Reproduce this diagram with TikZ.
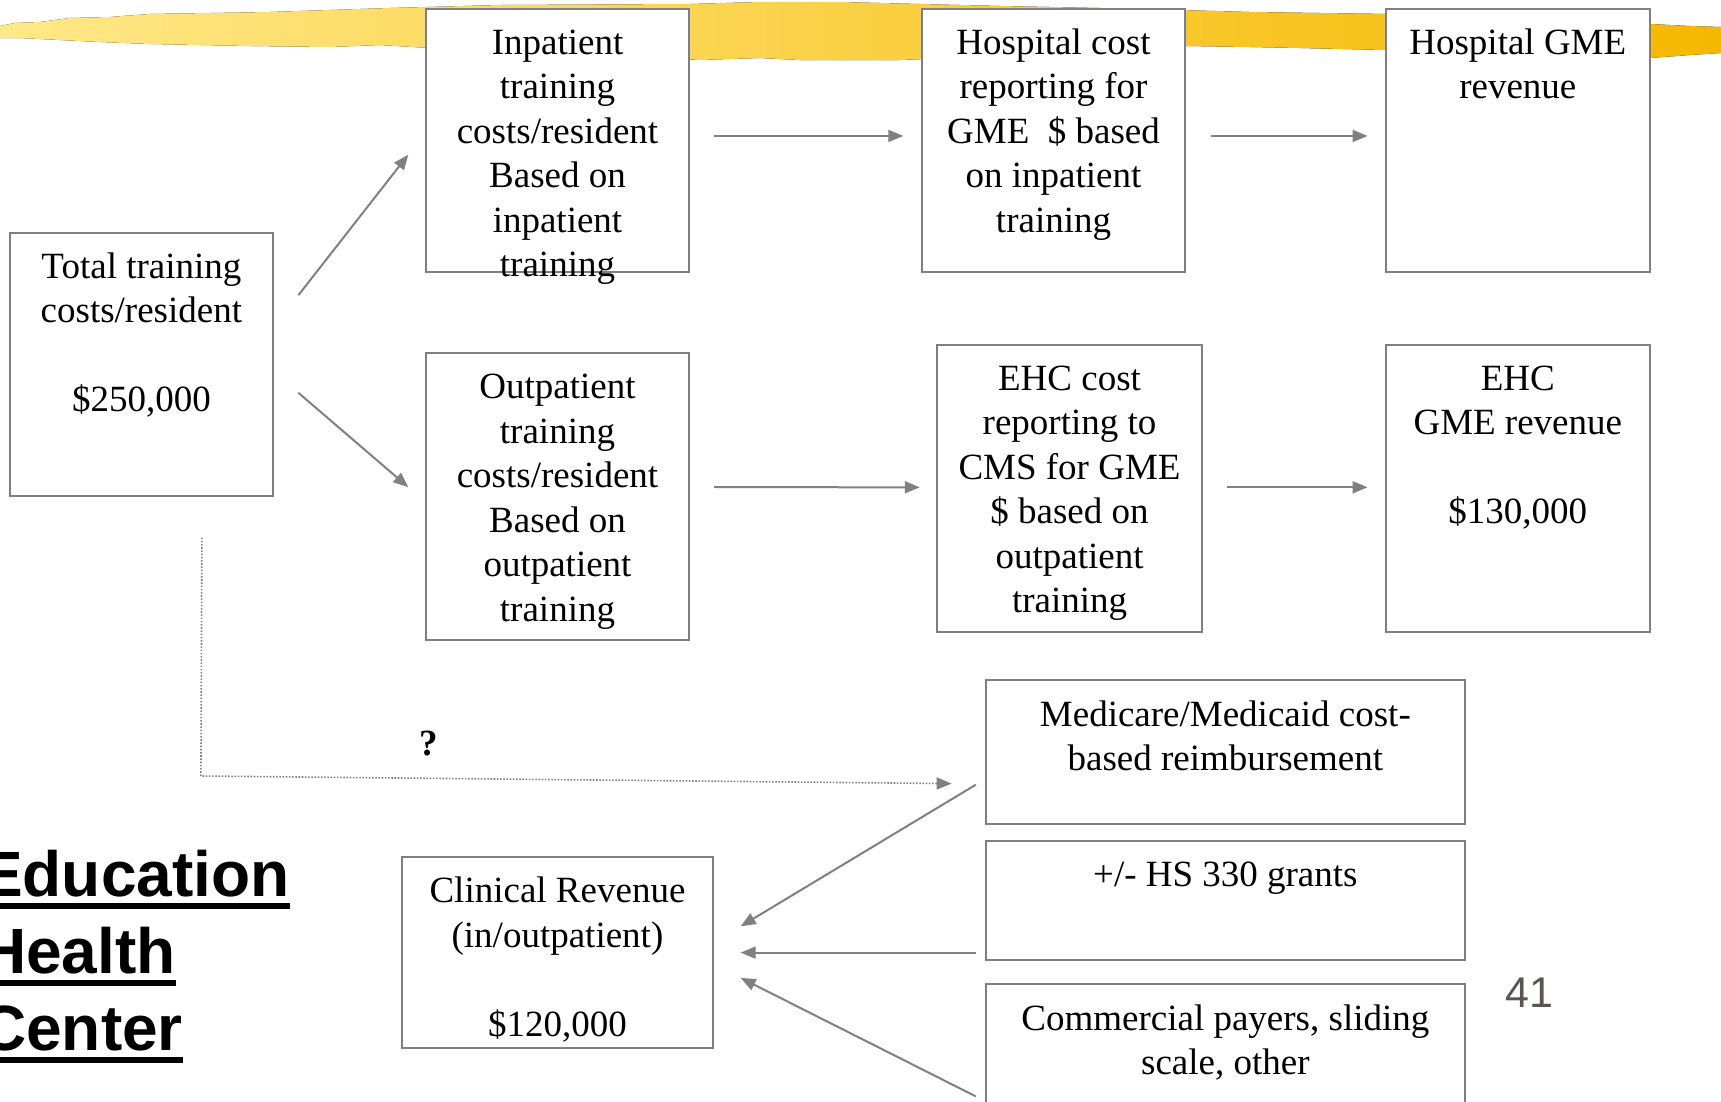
\documentclass[tikz,border=0pt]{standalone}
\usepackage{fontspec}
\setmainfont{Liberation Serif}
\setsansfont{Liberation Sans}
\usetikzlibrary{arrows.meta,calc}

\definecolor{boxgray}{HTML}{7F7F7F}
\definecolor{linegray}{HTML}{808080}
\definecolor{bandlight}{HTML}{FFE888}
\definecolor{banddark}{HTML}{F5B800}
\definecolor{numgray}{HTML}{5A5550}

% box text: width, height, lines (top aligned)
\newcommand\boxtext[3]{\parbox[c][#2][t]{#1}{\centering\vspace*{14.5pt}\strut #3\par}}
\newcommand\thickul[1]{\setbox0\hbox{#1}\rlap{\rule[-0.2em]{\wd0}{0.094em}}\box0}

\begin{document}
\begin{tikzpicture}[x=1pt,y=-1pt,
		cbox/.style = {draw=boxgray, line width=2pt, fill=white, inner sep=0pt,
			anchor=north west, font=\fontsize{37}{44.5}\selectfont},
		arr/.style = {draw=linegray, line width=2pt, -{Triangle[length=15pt,width=12pt]}},
		dotline/.style = {draw=linegray, line width=1.6pt, dash pattern=on 1.6pt off 1.6pt,
			-{Triangle[length=15pt,width=12pt]}},
		title/.style = {anchor=base west, inner sep=0pt,
			font=\sffamily\bfseries\fontsize{64}{77}\selectfont}]
	
	\useasboundingbox (0,0) rectangle (1721,1101);
	
	% brush stroke
	\fill[left color=bandlight, right color=banddark]
	(0,26) -- (15,23) -- (40,22) -- (70,18) -- (110,17) -- (150,14) -- (210,13)
	-- (270,12) -- (330,10) -- (390,8) -- (500,5) -- (690,4) -- (760,2) -- (840,2)
	-- (920,4) -- (1000,6) -- (1100,8) -- (1180,10) -- (1250,12) -- (1390,14)
	-- (1600,20) -- (1650,24) -- (1690,26) -- (1721,27)
	-- (1721,53) -- (1690,55) -- (1650,58) -- (1500,54) -- (1385,50) -- (1300,48)
	-- (1250,47) -- (1185,46) -- (1150,49) -- (1100,52) -- (1000,56) -- (900,60)
	-- (800,60) -- (760,58) -- (700,60) -- (600,55) -- (430,48) -- (380,45)
	-- (330,47) -- (250,46) -- (200,45) -- (150,44) -- (100,42) -- (60,40)
	-- (20,38) -- (0,38) -- cycle;
	
	\node[cbox] (total) at (8.8,231.6) {\boxtext{263.2pt}{263.4pt}{Total training\\costs/resident\\[44.5pt]\$250,000}};
	\node[cbox] (inp) at (424.8,7.7) {\boxtext{263.4pt}{263.3pt}{Inpatient\\training\\costs/resident\\Based on\\inpatient\\training}};
	\node[cbox] (hcost) at (921,7.7) {\boxtext{263pt}{263.3pt}{Hospital cost\\reporting for\\GME\ \ \$ based\\on inpatient\\training}};
	\node[cbox] (hgme) at (1385,7.7) {\boxtext{263.6pt}{263.3pt}{Hospital GME\\revenue}};
	\node[cbox] (outp) at (424.8,352.3) {\boxtext{263.4pt}{286.5pt}{Outpatient\\training\\costs/resident\\Based on\\outpatient\\training}};
	\node[cbox] (ehccost) at (936.3,343.5) {\boxtext{264.5pt}{287.6pt}{EHC cost\\reporting to\\CMS for GME\\\$ based on\\outpatient\\training}};
	\node[cbox] (ehcgme) at (1385,343.5) {\boxtext{263.6pt}{287.6pt}{EHC\\GME revenue\\[44.5pt]\$130,000}};
	\node[cbox] (medi) at (984.5,679.4) {\boxtext{479.7pt}{143.8pt}{Medicare/Medicaid cost-\\based reimbursement}};
	\node[cbox] (grants) at (984.5,839.7) {\boxtext{479.7pt}{119.6pt}{+/- HS 330 grants}};
	\node[cbox] (comm) at (984.5,983.4) {\boxtext{479.7pt}{140pt}{Commercial payers, sliding\\scale, other}};
	\node[cbox] (clin) at (400.6,856.1) {\boxtext{311.7pt}{191pt}{Clinical Revenue\\(in/outpatient)\\[44.5pt]\$120,000}};
	
	\node[font=\bfseries\fontsize{37}{44.5}\selectfont, inner sep=0pt] (q) at (429,744) {?};
	\node[title] (edu1) at (-20,896) {\thickul{Education}};
	\node[title] (edu2) at (-20,973) {\thickul{Health}};
	\node[title] (edu3) at (-20,1050) {\thickul{Center}};
	\node[font=\sffamily\fontsize{43}{50}\selectfont, text=numgray, inner sep=0pt] (pnum) at (1529.5,993) {41};
	
	% upper rows
	\draw[arr] ($(total.east)+(24.4,-69.1)$) -- ($(inp.west)+(-16.5,14.3)$);
	\draw[arr] ($(total.east)+(24.4,28.5)$) -- ($(outp.west)+(-16.5,-9.4)$);
	\draw[arr] ($(inp.east)+(24,-4.4)$) -- ($(hcost.west)+(-17.7,-4.4)$);
	\draw[arr] ($(hcost.east)+(24.5,-4.4)$) -- ($(hgme.west)+(-17.4,-4.4)$);
	\draw[arr] ($(outp.east)+(24,-9.4)$) -- ($(ehccost.west)+(-16.5,-1)$);
	\draw[arr] ($(ehccost.east)+(24,-1)$) -- ($(ehcgme.west)+(-17.4,-1)$);
	
	% dotted link
	\coordinate (bend) at (200.9,776);
	\draw[dotline] ($(total.south)+(60.5,40.6)$) -- (bend) -- ($(medi.west)+(-32.9,31.3)$);
	
	% revenue sources
	\draw[arr] ($(medi.west)+(-8.7,32.4)$) -- ($(clin.east)+(26.4,-26.3)$);
	\draw[arr] ($(grants.west)+(-8.7,52.1)$) -- ($(clin.east)+(26.4,0)$);
	\draw[arr] ($(comm.west)+(-8.7,42)$) -- ($(clin.east)+(26.4,25.3)$);
	
\end{tikzpicture}
\end{document}
